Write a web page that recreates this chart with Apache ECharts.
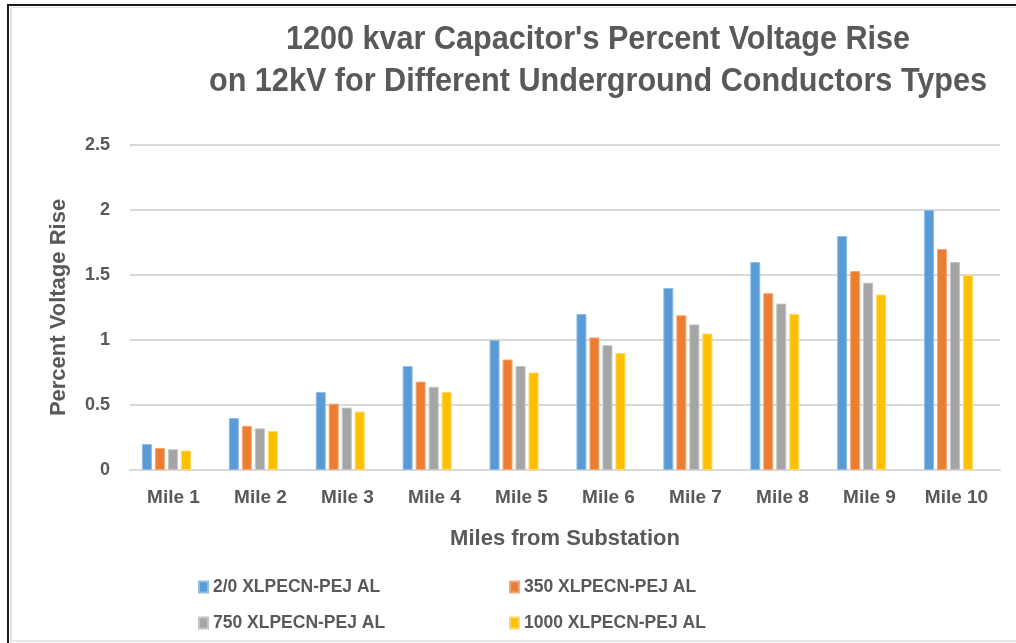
<!DOCTYPE html>
<html>
<head>
<meta charset="utf-8">
<script src="https://cdn.jsdelivr.net/npm/echarts@6/dist/echarts.min.js"></script>
<style>
  html, body { margin: 0; padding: 0; background: #ffffff; }
  #chart { width: 1016px; height: 643px; }
</style>
</head>
<body>
<div id="chart"></div>
<script>
// Percent voltage rise per mile for each underground conductor type
const categories = ['Mile 1', 'Mile 2', 'Mile 3', 'Mile 4', 'Mile 5', 'Mile 6', 'Mile 7', 'Mile 8', 'Mile 9', 'Mile 10'];
const seriesNames = ['2/0 XLPECN-PEJ AL', '350 XLPECN-PEJ AL', '750 XLPECN-PEJ AL', '1000 XLPECN-PEJ AL'];
const cond20   = [0.2, 0.4, 0.6, 0.8, 1.0, 1.2, 1.4, 1.6, 1.8, 2.0];
const cond350  = [0.17, 0.34, 0.51, 0.68, 0.85, 1.02, 1.19, 1.36, 1.53, 1.7];
const cond750  = [0.16, 0.32, 0.48, 0.64, 0.8, 0.96, 1.12, 1.28, 1.44, 1.6];
const cond1000 = [0.15, 0.3, 0.45, 0.6, 0.75, 0.9, 1.05, 1.2, 1.35, 1.5];
const yTicks = [0, 0.5, 1, 1.5, 2, 2.5];
const titleLines = ["1200 kvar Capacitor's Percent Voltage Rise", 'on 12kV for Different Underground Conductors Types'];

const colors = ['#5b9bd5', '#ed7d31', '#a5a5a5', '#ffc000'];
const borders = ['#8fbde6', '#f5a877', '#c4c4c4', '#ffd866'];
const textColor = '#595959';
const font = '"Liberation Sans", Arial, sans-serif';

const values = [cond20, cond350, cond750, cond1000];
const yMin = yTicks[0];
const yMax = yTicks[yTicks.length - 1];

const chart = echarts.init(document.getElementById('chart'), null, { renderer: 'canvas' });

const legendBase = {
  orient: 'vertical',
  top: 573,
  itemWidth: 9,
  itemHeight: 11,
  itemGap: 18,
  icon: 'rect',
  textStyle: { fontFamily: font, fontSize: 17.5, fontWeight: 'bold', color: textColor }
};

// Condensed title text (horizontally squeezed bold sans)
const titleGraphics = titleLines.map((line, i) => ({
  type: 'text',
  x: 598,
  y: 40 + i * 42,
  scaleX: 0.9,
  silent: true,
  style: {
    text: line,
    fill: textColor,
    font: 'bold 34px ' + font,
    textAlign: 'center',
    textVerticalAlign: 'middle'
  }
}));

chart.setOption({
  backgroundColor: '#ffffff',
  animation: false,
  legend: [
    Object.assign({}, legendBase, { data: [seriesNames[0], seriesNames[2]], left: 193 }),
    Object.assign({}, legendBase, { data: [seriesNames[1], seriesNames[3]], left: 504 })
  ],
  grid: [
    { left: 130, right: 16, top: 145, bottom: 173 },
    { left: 123, right: 24, top: 145, bottom: 173 }
  ],
  xAxis: [
    {
      type: 'category',
      gridIndex: 0,
      data: categories,
      name: 'Miles from Substation',
      nameLocation: 'middle',
      nameGap: 58,
      nameTextStyle: { fontFamily: font, fontSize: 22, fontWeight: 'bold', color: textColor },
      axisLine: { show: true, lineStyle: { color: '#d9d9d9', width: 2 } },
      axisTick: { show: false },
      axisLabel: { fontFamily: font, fontSize: 19, fontWeight: 'bold', color: textColor, margin: 18 }
    },
    {
      type: 'category',
      gridIndex: 1,
      data: categories,
      show: false
    }
  ],
  yAxis: [
    {
      type: 'value',
      gridIndex: 0,
      min: yMin,
      max: yMax,
      interval: 0.5,
      name: 'Percent Voltage Rise',
      nameLocation: 'middle',
      nameGap: 60,
      nameTextStyle: { fontFamily: font, fontSize: 22, fontWeight: 'bold', color: textColor },
      axisLine: { show: false },
      axisTick: { show: false },
      splitLine: { lineStyle: { color: '#d9d9d9', width: 2 } },
      axisLabel: { fontFamily: font, fontSize: 18, fontWeight: 'bold', color: textColor, margin: 20 }
    },
    {
      type: 'value',
      gridIndex: 1,
      min: yMin,
      max: yMax,
      interval: 0.5,
      show: false,
      splitLine: { show: false }
    }
  ],
  series: seriesNames.map((name, i) => ({
    name: name,
    type: 'bar',
    xAxisIndex: 1,
    yAxisIndex: 1,
    data: values[i],
    barWidth: 10,
    barGap: '30%',
    itemStyle: { color: colors[i], borderColor: borders[i], borderWidth: 1 }
  })),
  graphic: titleGraphics.concat([
    { type: 'rect', shape: { x: 7, y: 5, width: 2, height: 638 }, style: { fill: '#1a1a1a' }, silent: true },
    { type: 'rect', shape: { x: 7, y: 4, width: 1009, height: 2 }, style: { fill: '#1a1a1a' }, silent: true },
    { type: 'rect', shape: { x: 10, y: 7, width: 2, height: 636 }, style: { fill: '#e3e3e3' }, silent: true },
    { type: 'rect', shape: { x: 10, y: 7, width: 1006, height: 1 }, style: { fill: '#e3e3e3' }, silent: true },
    { type: 'rect', shape: { x: 10, y: 640, width: 1006, height: 2 }, style: { fill: '#e8e8e8' }, silent: true }
  ])
});
</script>
</body>
</html>
